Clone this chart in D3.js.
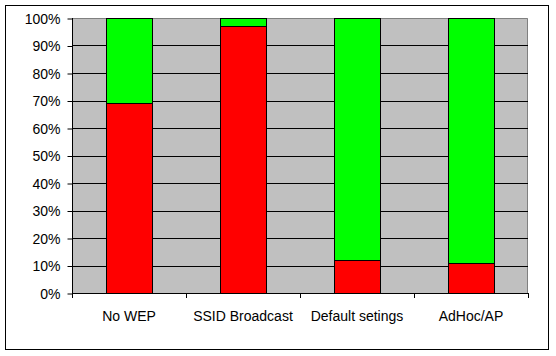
<!DOCTYPE html>
<html><head><meta charset="utf-8">
<script src="https://cdn.jsdelivr.net/npm/d3@7"></script>
<style>html,body{margin:0;padding:0;background:#fff}svg{display:block}</style>
</head><body><svg id="c" width="556" height="356"></svg>
<script>
const categories = ["No WEP", "SSID Broadcast", "Default setings", "AdHoc/AP"];
const redValues = [69, 97, 12, 11];
const greenValues = [31, 3, 88, 89];
const yTicks = [0,10,20,30,40,50,60,70,80,90,100];
const seriesKeys = ["red", "green"];
const seriesColors = {red: "#FF0000", green: "#00FF00"};

const svg = d3.select("#c");
const L = 72, R = 528, T = 18, B = 293;
const font = "Arial, 'Liberation Sans', sans-serif";
const fs = 14;

// outer frame
svg.append("rect").attr("x", 5.5).attr("y", 5.5).attr("width", 543).attr("height", 344)
  .attr("fill", "#fff").attr("stroke", "#000").attr("stroke-width", 1);

const x = d3.scaleBand().domain(categories).range([L, R]).paddingInner(0.6).paddingOuter(0.3);
const y = d3.scaleLinear().domain([0, 100]).range([B, T]);

// plot background
svg.append("rect").attr("x", L).attr("y", T).attr("width", R - L).attr("height", B - T).attr("fill", "#C0C0C0");
// plot border (gray) top/right
svg.append("path").attr("d", `M${L},${T+0.5}H${R-0.5}V${B}`).attr("fill", "none").attr("stroke", "#808080");

// gridlines
svg.append("g").selectAll("line").data(yTicks.filter(v => v > 0 && v < 100)).join("line")
  .attr("x1", L).attr("x2", R).attr("y1", d => Math.round(y(d)) + 0.5).attr("y2", d => Math.round(y(d)) + 0.5)
  .attr("stroke", "#000");

// stacked data
const data = categories.map((c, i) => ({cat: c, red: redValues[i], green: greenValues[i]}));
const stack = d3.stack().keys(seriesKeys)(data);

svg.append("g").selectAll("g").data(stack).join("g")
  .attr("fill", d => seriesColors[d.key])
  .selectAll("rect").data(d => d).join("rect")
  .attr("x", d => Math.round(x(d.data.cat)) + 0.5)
  .attr("y", d => Math.round(y(d[1])) + 0.5)
  .attr("width", Math.round(x.bandwidth()))
  .attr("height", d => Math.round(y(d[0])) - Math.round(y(d[1])))
  .attr("stroke", "#000").attr("stroke-width", 1);

// y axis
const yAxis = d3.axisLeft(y).tickValues(yTicks).tickFormat(d => d + "%").tickSize(5).tickPadding(7);
const gy = svg.append("g").attr("transform", `translate(${L + 0.5},0.5)`).call(yAxis);
gy.select(".domain").attr("stroke", "#000").attr("d", `M0,${T-0.5}V${B}`);
gy.selectAll(".tick line").attr("stroke", "#000");
gy.selectAll("text").attr("font-family", font).attr("font-size", fs).attr("fill", "#000").attr("dy", "0.35em");

// x axis line
svg.append("line").attr("x1", L).attr("x2", R + 0.5).attr("y1", B + 0.5).attr("y2", B + 0.5).attr("stroke", "#000");
// x boundary ticks
const half = (x.step() - x.bandwidth()) / 2;
const bounds = categories.map(c => x(c) - half).concat([x(categories[categories.length - 1]) + x.bandwidth() + half]);
svg.append("g").selectAll("line").data(bounds).join("line")
  .attr("x1", d => Math.round(d) + 0.5).attr("x2", d => Math.round(d) + 0.5)
  .attr("y1", B).attr("y2", B + 5).attr("stroke", "#000");
// x labels
svg.append("g").selectAll("text").data(categories).join("text")
  .attr("x", d => x(d) + x.bandwidth() / 2).attr("y", 321)
  .attr("text-anchor", "middle").attr("font-family", font).attr("font-size", fs).attr("fill", "#000")
  .text(d => d);
</script></body></html>
